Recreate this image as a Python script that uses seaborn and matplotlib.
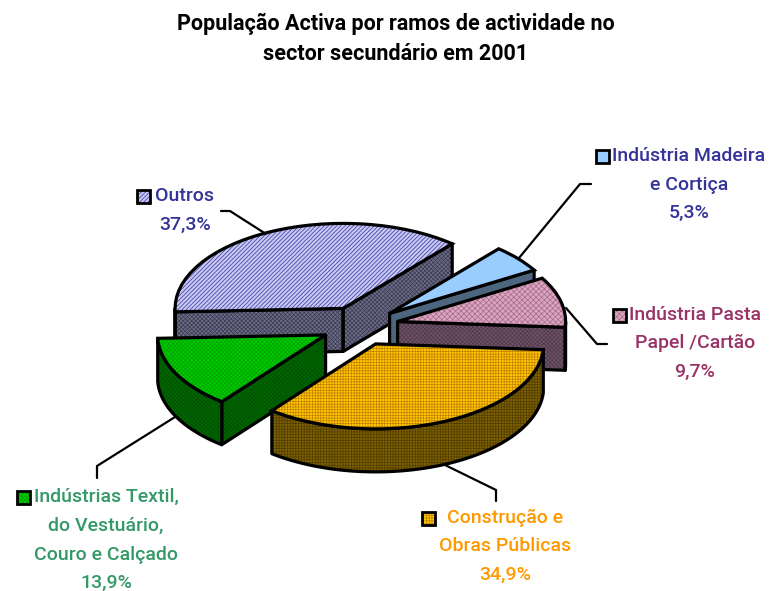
import numpy as np
import seaborn as sns
import matplotlib.pyplot as plt
from matplotlib.patches import Polygon, Rectangle

# Step-1: data (clockwise, starting at the Madeira slice)
categories = ["Indústria Madeira", "Indústria Pasta", "Construção", "Indústrias Textil", "Outros"]
values = [5.3, 9.7, 34.9, 13.9, 37.3]
value_labels = ["5,3%", "9,7%", "34,9%", "13,9%", "37,3%"]

top_colors = ["#99CCFF", "#D9A6C0", "#FFC800", "#00CC00", "#C8C8F5"]
side_colors = ["#4D6680", "#6E5468", "#806000", "#006600", "#6C6C88"]
top_hatch_colors = ["#99CCFF", "#A8688A", "#C08000", "#00A000", "#333399"]
side_hatch_colors = ["#4D6680", "#4E3848", "#4D3D00", "#005200", "#3A3A50"]
top_hatches = [None, "xxxxxx", "++++++", "xxxxxxxx", "////////"]
side_hatches = [None, "xxxxxxxx", "++++++", "xxxxxxxx", "xxxxxxxx"]
text_colors = ["#333399", "#993366", "#FF9900", "#339966", "#333399"]
draw_order = [4, 0, 1, 3, 2]

title_lines = ["População Activa por ramos de actividade no", "sector secundário em 2001"]

# Step-2: set theme
sns.set_theme(style="white")
plt.rcParams["font.family"] = ["Roboto", "Liberation Sans", "DejaVu Sans"]
plt.rcParams["hatch.linewidth"] = 0.5

W, H = 769, 591
CX, CY = 360, 326   # pie centre in pixels
RX, RY = 168, 85    # pixels per data unit
DEPTH = 43 / RY
LW = 2.3

fig = plt.figure(figsize=(W / 100, H / 100), dpi=100, facecolor="white")
ax = fig.add_axes([0, 0, 1, 1])

# Step-3: the tops, one pie for the fill and one for the outline
fills, _ = ax.pie(values, explode=[0.23] * 5, startangle=49.5, counterclock=False, colors=top_colors,
                  wedgeprops={"linewidth": 0})
lines, _ = ax.pie(values, explode=[0.23] * 5, startangle=49.5, counterclock=False,
                  wedgeprops={"fill": False, "edgecolor": "black", "linewidth": LW})


def side_face(pts, i, z):
    pts = np.array(pts)
    ax.add_patch(Polygon(pts, closed=True, facecolor=side_colors[i], edgecolor=side_hatch_colors[i],
                         hatch=side_hatches[i], linewidth=0, zorder=z))
    ax.add_patch(Polygon(pts, closed=True, fill=False, edgecolor="black", linewidth=LW,
                         joinstyle="round", zorder=z + 0.1))


for z, i in enumerate(draw_order):
    w = fills[i]
    cx, cy = w.center
    base = 10 * (z + 1)
    # radial cuts that face the viewer
    for ang, sign in ((w.theta1, 1), (w.theta2, -1)):
        if sign * np.cos(np.radians(ang)) > 0:
            rim = (cx + w.r * np.cos(np.radians(ang)), cy + w.r * np.sin(np.radians(ang)))
            side_face([(cx, cy), rim, (rim[0], rim[1] - DEPTH), (cx, cy - DEPTH)], i, base)
    # outer rim, only the front part
    t = np.radians(np.linspace(w.theta1, w.theta2, 300))
    t = t[np.sin(t) <= 0]
    if len(t) > 1:
        x = cx + w.r * np.cos(t)
        y = cy + w.r * np.sin(t)
        side_face(np.r_[np.c_[x, y], np.c_[x, y - DEPTH][::-1]], i, base + 1)
    w.set_zorder(base + 2)
    if top_hatches[i]:
        w.set_hatch(top_hatches[i])
        w.set_edgecolor(top_hatch_colors[i])
    lines[i].set_zorder(base + 3)

# squash the pie through the axis scales
ax.set_aspect("auto")
ax.set_xlim(-CX / RX, (W - CX) / RX)
ax.set_ylim(-(H - CY) / RY, CY / RY)
ax.axis("off")

# Step-4: overlay in pixel coordinates for the title, labels, keys and leader lines
ov = fig.add_axes([0, 0, 1, 1], facecolor="none", zorder=5)
ov.set_xlim(0, W)
ov.set_ylim(H, 0)
ov.axis("off")

for y, line in zip((24, 54), title_lines):
    ov.text(396, y, line, ha="center", va="center", fontsize=15.5, fontweight="bold", color="black")

label_text = [
    ["Indústria Madeira", "e Cortiça", value_labels[0]],
    ["Indústria Pasta", "Papel /Cartão", value_labels[1]],
    ["Construção e", "Obras Públicas", value_labels[2]],
    ["Indústrias Textil,", "do Vestuário,", "Couro e Calçado", value_labels[3]],
    ["Outros", value_labels[4]],
]
label_x = [[689, 689, 689], [695, 695, 695], [505, 505, 505], [106, 106, 106, 106], [185, 185]]
label_y = [[156, 185, 213], [315, 343, 372], [518, 546, 575], [497, 526, 555, 583], [196, 225]]
key_xy = [(602, 156), (619, 315), (428, 518), (23, 497), (143, 196)]
leaders = [
    [(591, 184), (580, 184), (519, 258)],
    [(607, 344), (597, 344), (566, 308)],
    [(445, 465), (496, 490), (496, 501)],
    [(175, 417), (97, 466), (97, 478)],
    [(221, 211), (230, 211), (266, 234)],
]

for i in range(5):
    for x, y, line in zip(label_x[i], label_y[i], label_text[i]):
        ov.text(x, y, line, ha="center", va="center", fontsize=14, fontweight="medium", color=text_colors[i])
    kx, ky = key_xy[i]
    ov.add_patch(Rectangle((kx - 6.5, ky - 6.5), 13, 13, facecolor=top_colors[i],
                           edgecolor=top_hatch_colors[i], hatch=top_hatches[i], linewidth=0))
    ov.add_patch(Rectangle((kx - 6.5, ky - 6.5), 13, 13, fill=False, edgecolor="black", linewidth=2))
    ax_line = np.array(leaders[i])
    ov.plot(ax_line[:, 0], ax_line[:, 1], color="black", lw=1.6)

fig.savefig("out.png", dpi=100)
